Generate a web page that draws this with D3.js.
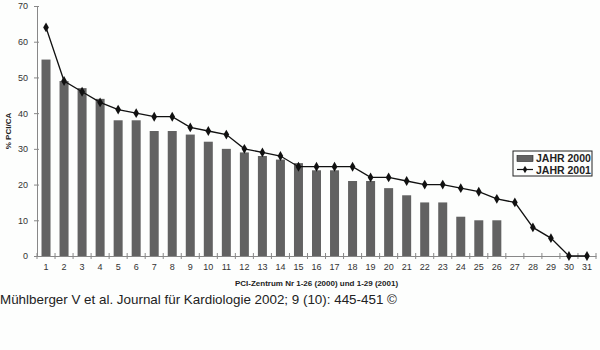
<!DOCTYPE html>
<html>
<head>
<meta charset="utf-8">
<script src="https://cdn.jsdelivr.net/npm/d3@7"></script>
<style>
  body { margin: 0; background: #fdfefd; }
  svg { display: block; font-family: "Liberation Sans", Arial, sans-serif; }
</style>
</head>
<body>
<div id="chart"></div>
<script>
// PCI/CA per centre, sorted
const centres = d3.range(1, 32).map(String);
const jahr2000 = [55, 49, 47, 44, 38, 38, 35, 35, 34, 32, 30, 29, 28, 27, 26, 24, 24, 21, 21, 19, 17, 15, 15, 11, 10, 10];
const jahr2001 = [64, 49, 46, 43, 41, 40, 39, 39, 36, 35, 34, 30, 29, 28, 25, 25, 25, 25, 22, 22, 21, 20, 20, 19, 18, 16, 15, 8, 5, 0, 0];
const yTicks = [0, 10, 20, 30, 40, 50, 60, 70];

function drawChart() {
  const width = 600, height = 350;
  const margin = { top: 6, right: 4, bottom: 94, left: 37 };
  const innerWidth = width - margin.left - margin.right;
  const innerHeight = height - margin.top - margin.bottom;

  const svg = d3.select('#chart').append('svg')
    .attr('width', width)
    .attr('height', height);

  svg.append('rect').attr('width', width).attr('height', height).attr('fill', '#fdfefd');

  const g = svg.append('g').attr('transform', `translate(${margin.left},${margin.top})`);

  const x = d3.scaleBand().domain(centres).range([0, innerWidth]);
  const y = d3.scaleLinear().domain([0, 70]).range([innerHeight, 0]);

  // bars 2000
  const barW = 9;
  g.selectAll('.bar')
    .data(jahr2000)
    .enter().append('rect')
    .attr('class', 'bar')
    .attr('x', (d, i) => x(centres[i]) + x.bandwidth() / 2 - barW / 2)
    .attr('y', d => y(d))
    .attr('width', barW)
    .attr('height', d => y(0) - y(d))
    .attr('fill', '#626262');

  // y axis
  const yAxis = g.append('g')
    .call(d3.axisLeft(y).tickValues(yTicks).tickSizeInner(4).tickSizeOuter(0).tickPadding(5));
  yAxis.selectAll('line').attr('x2', -3).attr('x1', 2);
  // x axis
  const xAxis = g.append('g')
    .attr('transform', `translate(0,${innerHeight})`)
    .call(d3.axisBottom(x).tickSize(0).tickSizeOuter(0).tickPadding(8));
  xAxis.selectAll('.tick line').remove();
  // ticks between categories
  xAxis.selectAll('.sep')
    .data(d3.range(0, centres.length + 1))
    .enter().append('line')
    .attr('class', 'sep')
    .attr('x1', i => i * x.step()).attr('x2', i => i * x.step())
    .attr('y1', -3).attr('y2', 3)
    .attr('stroke', '#888');

  [xAxis, yAxis].forEach(axis => {
    axis.select('.domain').attr('stroke', '#888');
    axis.selectAll('line').attr('stroke', '#888');
    axis.selectAll('text')
      .style('font-family', '"Liberation Sans", Arial, sans-serif')
      .style('font-size', '9px')
      .style('fill', '#333');
  });

  // line 2001
  const line = d3.line()
    .x((d, i) => x(centres[i]) + x.bandwidth() / 2)
    .y(d => y(d));

  g.append('path')
    .datum(jahr2001)
    .attr('fill', 'none')
    .attr('stroke', '#111')
    .attr('stroke-width', 1.3)
    .attr('d', line);

  const diamond = d3.symbol().type(d3.symbolDiamond).size(28);
  g.selectAll('.pt')
    .data(jahr2001)
    .enter().append('path')
    .attr('class', 'pt')
    .attr('transform', (d, i) => `translate(${x(centres[i]) + x.bandwidth() / 2},${y(d)})`)
    .attr('d', diamond)
    .attr('fill', '#111');

  // axis titles
  svg.append('text')
    .attr('transform', `translate(11,${margin.top + innerHeight / 2}) rotate(-90)`)
    .attr('text-anchor', 'middle')
    .style('font-size', '8px')
    .style('font-weight', 'bold')
    .style('fill', '#222')
    .text('% PCI/CA');

  svg.append('text')
    .attr('x', margin.left + innerWidth / 2)
    .attr('y', 286)
    .attr('text-anchor', 'middle')
    .style('font-size', '8px')
    .style('font-weight', 'bold')
    .style('fill', '#222')
    .text('PCI-Zentrum Nr 1-26 (2000) und 1-29 (2001)');

  // legend
  const legend = svg.append('g').attr('transform', 'translate(513,151)');
  legend.append('rect')
    .attr('width', 79).attr('height', 25)
    .attr('fill', '#fdfefd').attr('stroke', '#222');
  legend.append('rect')
    .attr('x', 4).attr('y', 4.5).attr('width', 16).attr('height', 6)
    .attr('fill', '#626262').attr('stroke', '#222').attr('stroke-width', 0.6);
  legend.append('line')
    .attr('x1', 4).attr('x2', 20).attr('y1', 18.5).attr('y2', 18.5)
    .attr('stroke', '#111').attr('stroke-width', 1.2);
  legend.append('path')
    .attr('transform', 'translate(12,18.5)')
    .attr('d', d3.symbol().type(d3.symbolDiamond).size(16)).attr('fill', '#111');
  ['JAHR 2000', 'JAHR 2001'].forEach((t, i) => {
    legend.append('text')
      .attr('x', 23).attr('y', 7.5 + i * 11.5).attr('dy', '0.35em')
      .style('font-size', '10.5px')
      .style('font-weight', 'bold')
      .style('fill', '#222')
      .text(t);
  });

  // source
  svg.append('text')
    .attr('x', 0).attr('y', 304)
    .style('font-size', '13.4px')
    .style('fill', '#222')
    .text('Mühlberger V et al. Journal für Kardiologie 2002; 9 (10): 445-451 ©');
}

drawChart();
</script>
</body>
</html>
